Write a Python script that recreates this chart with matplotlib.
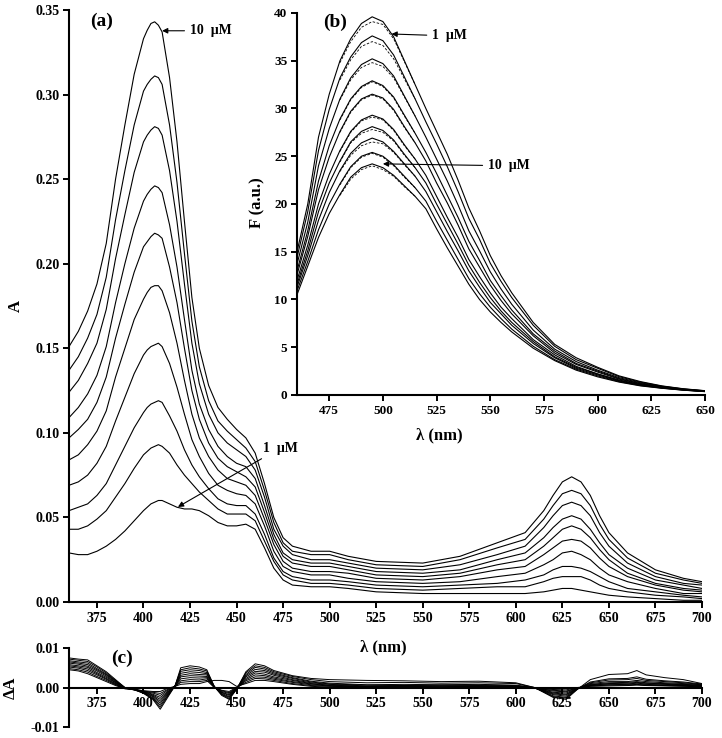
import numpy as np
import matplotlib.pyplot as plt

plt.rcParams['font.family'] = ['Liberation Serif', 'DejaVu Serif']
plt.rcParams['font.weight'] = 'bold'
plt.rcParams['axes.labelweight'] = 'bold'

# ---- (a) absorbance spectra, 1 ... 10 uM ----
wl_a = [360, 365, 370, 375, 380, 385, 390, 395, 400, 402, 404, 406, 408, 410, 414, 418, 422, 426, 430,
        435, 440, 445, 450, 455, 460, 465, 470, 475, 480, 490, 500, 510, 525, 550, 570, 590, 605,
        615, 620, 625, 630, 635, 640, 645, 650, 660, 675, 690, 700]
abs_1 = [.029, .028, .028, .030, .033, .037, .042, .048, .054, .056, .058, .059, .060, .060, .058, .056, .055, .055, .054,
         .051, .047, .045, .045, .046, .043, .032, .020, .013, .010, .009, .009, .008, .006, .005, .005, .005, .005,
         .006, .007, .008, .008, .007, .006, .005, .004, .003, .002, .001, .001]
abs_2 = [.043, .043, .045, .049, .054, .062, .070, .079, .087, .089, .091, .092, .093, .092, .088, .081, .075, .070, .065,
         .060, .055, .052, .052, .052, .048, .036, .024, .016, .013, .011, .011, .010, .008, .007, .008, .009, .009,
         .012, .014, .015, .015, .015, .013, .010, .008, .006, .004, .003, .002]
abs_3 = [.054, .056, .058, .063, .070, .081, .092, .103, .112, .115, .117, .118, .119, .118, .110, .101, .090, .081, .074,
         .067, .061, .058, .057, .057, .052, .040, .026, .018, .015, .013, .013, .012, .010, .009, .010, .011, .013,
         .016, .019, .021, .021, .020, .018, .015, .012, .008, .006, .004, .003]
abs_4 = [.069, .071, .075, .082, .092, .107, .121, .135, .146, .149, .151, .152, .153, .151, .141, .127, .111, .096, .086,
         .076, .069, .066, .064, .063, .058, .045, .030, .021, .018, .016, .016, .014, .012, .011, .012, .015, .017,
         .022, .025, .029, .030, .028, .025, .020, .016, .012, .008, .005, .005]
abs_5 = [.084, .087, .093, .101, .113, .133, .150, .167, .179, .183, .186, .187, .187, .184, .171, .153, .131, .111, .097,
         .086, .078, .073, .071, .069, .063, .049, .034, .024, .020, .018, .018, .017, .014, .013, .015, .019, .021,
         .028, .032, .036, .037, .036, .032, .026, .021, .015, .010, .007, .006]
abs_6 = [.097, .102, .108, .118, .133, .156, .176, .195, .210, .213, .216, .218, .217, .215, .198, .177, .150, .125, .108,
         .094, .085, .080, .077, .074, .068, .053, .037, .027, .023, .021, .021, .019, .016, .015, .017, .022, .025,
         .033, .038, .043, .045, .043, .038, .031, .025, .017, .011, .008, .007]
abs_7 = [.109, .115, .123, .134, .151, .177, .200, .221, .237, .241, .244, .246, .245, .242, .223, .198, .167, .137, .117,
         .102, .092, .086, .082, .080, .073, .057, .040, .029, .025, .023, .023, .021, .018, .017, .019, .025, .029,
         .038, .044, .049, .051, .049, .043, .035, .028, .020, .013, .010, .008]
abs_8 = [.124, .131, .141, .153, .173, .203, .229, .254, .272, .276, .279, .281, .280, .276, .255, .225, .188, .153, .129,
         .111, .100, .094, .090, .086, .078, .062, .043, .033, .028, .025, .025, .023, .020, .019, .022, .028, .033,
         .044, .051, .057, .059, .057, .051, .041, .033, .023, .015, .011, .010]
abs_9 = [.137, .145, .156, .170, .192, .226, .255, .282, .302, .306, .309, .311, .310, .306, .282, .248, .206, .166, .139,
         .119, .107, .101, .096, .091, .083, .066, .047, .035, .030, .028, .028, .025, .022, .021, .025, .032, .037,
         .049, .057, .064, .066, .064, .057, .046, .037, .026, .017, .013, .011]
abs_10 = [.151, .160, .172, .188, .212, .250, .282, .312, .333, .338, .342, .343, .341, .337, .310, .272, .225, .180, .150,
          .128, .115, .108, .102, .097, .088, .070, .050, .038, .033, .030, .030, .027, .024, .023, .027, .035, .041,
          .054, .063, .071, .074, .071, .063, .051, .041, .029, .019, .014, .012]
abs_curves = [abs_1, abs_2, abs_3, abs_4, abs_5, abs_6, abs_7, abs_8, abs_9, abs_10]

# ---- (b) fluorescence spectra ----
wl_b = [460, 465, 470, 475, 480, 485, 490, 495, 500, 505, 510, 515, 520, 525, 530, 535, 540, 545,
        550, 555, 560, 570, 580, 590, 600, 610, 620, 630, 640, 650]
fl_1 = [15.0, 20.0, 27.0, 31.5, 35.0, 37.3, 38.9, 39.6, 39.1, 37.5, 35.0, 32.5, 30.0, 27.6, 25.2, 22.5, 19.6, 17.2,
        14.6, 12.5, 10.7, 7.6, 5.3, 3.9, 2.9, 2.0, 1.4, 0.95, 0.65, 0.45]
fl_2 = [14.4, 19.2, 25.6, 29.9, 33.2, 35.4, 36.9, 37.6, 37.1, 35.6, 33.3, 31.0, 28.6, 26.3, 23.9, 21.3, 18.5, 16.3,
        13.8, 11.9, 10.2, 7.3, 5.1, 3.7, 2.8, 1.92, 1.34, 0.92, 0.63, 0.44]
fl_3 = [13.7, 18.1, 24.0, 27.9, 31.0, 33.2, 34.6, 35.2, 34.7, 33.4, 31.3, 29.2, 27.0, 24.7, 22.4, 19.9, 17.2, 15.1,
        12.9, 11.1, 9.5, 6.8, 4.8, 3.5, 2.6, 1.81, 1.27, 0.88, 0.61, 0.42]
fl_4 = [13.0, 17.2, 22.4, 26.1, 28.9, 31.0, 32.3, 32.9, 32.4, 31.2, 29.3, 27.4, 25.4, 23.2, 20.9, 18.6, 16.1, 14.1,
        12.0, 10.4, 8.9, 6.4, 4.6, 3.3, 2.5, 1.72, 1.20, 0.84, 0.58, 0.41]
fl_5 = [12.6, 16.6, 21.5, 24.9, 27.6, 29.7, 31.0, 31.5, 31.1, 29.9, 28.1, 26.4, 24.5, 22.2, 20.1, 17.8, 15.3, 13.4,
        11.5, 9.9, 8.5, 6.2, 4.4, 3.2, 2.4, 1.66, 1.16, 0.82, 0.57, 0.40]
fl_6 = [12.0, 15.7, 20.0, 23.1, 25.6, 27.6, 28.8, 29.3, 28.9, 27.8, 26.2, 24.7, 23.0, 20.8, 18.6, 16.5, 14.2, 12.4,
        10.7, 9.2, 8.0, 5.8, 4.2, 3.0, 2.2, 1.57, 1.10, 0.78, 0.55, 0.38]
fl_7 = [11.6, 15.1, 19.2, 22.2, 24.5, 26.5, 27.6, 28.1, 27.7, 26.7, 25.2, 23.8, 22.2, 20.0, 17.9, 15.8, 13.6, 11.8,
        10.2, 8.8, 7.6, 5.6, 4.0, 2.9, 2.2, 1.51, 1.06, 0.76, 0.54, 0.38]
fl_8 = [11.3, 14.6, 18.3, 21.2, 23.5, 25.3, 26.4, 26.9, 26.5, 25.5, 24.2, 22.9, 21.3, 19.2, 17.1, 15.1, 13.0, 11.3,
        9.7, 8.5, 7.3, 5.4, 3.9, 2.8, 2.1, 1.46, 1.03, 0.74, 0.53, 0.37]
fl_9 = [10.9, 14.0, 17.3, 20.0, 22.1, 23.9, 25.0, 25.4, 25.0, 24.1, 22.9, 21.7, 20.3, 18.2, 16.2, 14.2, 12.2, 10.6,
        9.2, 8.0, 6.9, 5.1, 3.7, 2.7, 2.0, 1.40, 0.99, 0.72, 0.51, 0.36]
fl_10 = [10.5, 13.5, 16.5, 19.0, 21.0, 22.8, 23.8, 24.2, 23.8, 23.0, 21.9, 20.8, 19.5, 17.4, 15.4, 13.5, 11.6, 10.0,
         8.7, 7.6, 6.6, 4.9, 3.6, 2.6, 1.9, 1.35, 0.95, 0.70, 0.50, 0.35]
fl_curves = [fl_1, fl_2, fl_3, fl_4, fl_5, fl_6, fl_7, fl_8, fl_9, fl_10]

# dashed (fitted) curves, only where they part from the measured ones
wl_b_pk = [480, 485, 490, 495, 500, 505, 510, 515]
fit_1 = [34.8, 37.0, 38.5, 39.1, 38.8, 37.3, 34.9, 32.5]
fit_2 = [33.0, 35.1, 36.5, 37.0, 36.6, 35.2, 33.1, 31.0]
fit_3 = [30.9, 33.0, 34.3, 34.8, 34.4, 33.2, 31.2, 29.2]
fit_4 = [28.8, 30.9, 32.2, 32.8, 32.3, 31.1, 29.2, 27.4]
fit_5 = [27.5, 29.6, 30.9, 31.4, 31.0, 29.8, 28.0, 26.4]
fit_6 = [25.5, 27.5, 28.7, 29.1, 28.8, 27.7, 26.1, 24.7]
fit_7 = [24.4, 26.4, 27.4, 27.8, 27.5, 26.6, 25.1, 23.8]
fit_8 = [23.4, 25.1, 26.1, 26.5, 26.3, 25.4, 24.1, 22.9]
fit_9 = [22.0, 23.8, 24.9, 25.3, 24.9, 24.0, 22.8, 21.7]
fit_10 = [20.9, 22.6, 23.6, 24.0, 23.6, 22.9, 21.8, 20.8]
fit_curves = [fit_1, fit_2, fit_3, fit_4, fit_5, fit_6, fit_7, fit_8, fit_9, fit_10]

# ---- (c) residuals, in units of 1e-3 ----
wl_c = [360, 365, 370, 375, 380, 385, 390, 395, 400, 405, 409, 413, 417, 420, 425, 430, 434, 438, 442, 446,
        450, 455, 460, 465, 470, 480, 490, 500, 520, 540, 560, 580, 600, 610, 620, 627, 633, 640, 650, 660,
        665, 670, 680, 690, 700]
dA_1 = [4.5, 4.2, 3.5, 2.5, 1.5, 0.5, -0.3, -0.5, -0.8, -1.0, -1.0, -0.2, 0.3, 0.8, 1.0, 1.0, 1.5, 1.8, 1.8, 1.5,
        0.3, 1.0, 1.8, 1.8, 1.5, 0.8, 0.3, 0.1, 0.0, 0.1, 0.0, 0.1, 0.0, -0.2, -0.5, -0.6, 0.0, 0.3, 0.4, 0.5,
        0.6, 0.5, 0.4, 0.3, 0.2]
dA_2 = [4.8, 4.5, 3.9, 2.8, 1.8, 0.7, -0.3, -0.4, -0.9, -1.2, -1.5, -0.5, 0.3, 1.3, 1.5, 1.5, 1.8, 0.0, -0.7, -1.0,
        0.0, 1.3, 2.3, 2.2, 1.8, 1.0, 0.5, 0.3, 0.1, 0.0, 0.1, 0.2, 0.1, -0.2, -0.7, -0.9, -0.1, 0.4, 0.6, 0.6,
        0.8, 0.6, 0.5, 0.4, 0.3]
dA_3 = [5.2, 4.9, 4.3, 3.2, 2.1, 0.8, -0.2, -0.6, -1.0, -1.4, -2.0, -0.7, 0.3, 1.7, 2.0, 1.9, 2.2, 0.1, -0.8, -1.3,
        -0.1, 1.7, 2.7, 2.6, 2.1, 1.3, 0.7, 0.4, 0.2, 0.2, 0.1, 0.2, 0.1, -0.2, -0.9, -1.1, -0.1, 0.5, 0.7, 0.8,
        0.9, 0.8, 0.6, 0.5, 0.3]
dA_4 = [5.5, 5.2, 4.7, 3.5, 2.3, 1.0, -0.2, -0.5, -1.0, -1.7, -2.5, -1.0, 0.4, 2.2, 2.5, 2.4, 2.5, 0.1, -1.0, -1.5,
        -0.2, 2.0, 3.2, 3.0, 2.4, 1.5, 0.9, 0.5, 0.2, 0.3, 0.2, 0.3, 0.2, -0.1, -1.2, -1.4, -0.2, 0.6, 0.9, 0.9,
        1.1, 0.9, 0.8, 0.6, 0.4]
dA_5 = [5.8, 5.5, 5.1, 3.8, 2.6, 1.2, -0.2, -0.4, -1.1, -1.9, -3.0, -1.2, 0.4, 2.7, 3.0, 2.9, 2.8, 0.1, -1.2, -1.8,
        -0.2, 2.3, 3.7, 3.4, 2.7, 1.8, 1.0, 0.6, 0.3, 0.3, 0.4, 0.4, 0.3, -0.1, -1.4, -1.7, -0.2, 0.7, 1.0, 1.1,
        1.3, 1.1, 0.9, 0.7, 0.5]
dA_6 = [6.2, 5.9, 5.4, 4.2, 2.9, 1.3, -0.1, -0.6, -1.2, -2.1, -3.5, -1.5, 0.4, 3.1, 3.5, 3.3, 3.2, 0.2, -1.3, -2.0,
        -0.3, 2.7, 4.1, 3.9, 3.1, 2.0, 1.2, 0.8, 0.4, 0.5, 0.4, 0.5, 0.3, -0.1, -1.6, -1.9, -0.3, 0.8, 1.2, 1.3,
        1.5, 1.2, 1.0, 0.8, 0.6]
dA_7 = [6.5, 6.2, 5.8, 4.5, 3.2, 1.5, -0.1, -0.5, -1.3, -2.3, -4.0, -1.7, 0.4, 3.6, 4.0, 3.8, 3.5, 0.2, -1.5, -2.3,
        -0.3, 3.0, 4.6, 4.3, 3.4, 2.3, 1.4, 0.9, 0.6, 0.5, 0.6, 0.6, 0.5, -0.1, -1.8, -2.2, -0.3, 1.0, 1.5, 1.5,
        1.8, 1.5, 1.2, 1.0, 0.7]
dA_8 = [6.8, 6.5, 6.2, 4.8, 3.4, 1.7, -0.1, -0.4, -1.3, -2.6, -4.5, -2.0, 0.5, 4.1, 4.5, 4.3, 3.8, 0.2, -1.7, -2.5,
        -0.4, 3.3, 5.1, 4.7, 3.7, 2.5, 1.6, 1.1, 0.7, 0.8, 0.7, 0.8, 0.6, 0.0, -2.1, -2.5, -0.4, 1.2, 1.9, 2.0,
        2.3, 1.8, 1.5, 1.2, 0.8]
dA_9 = [7.2, 6.9, 6.6, 5.2, 3.7, 1.8, 0.0, -0.6, -1.4, -2.8, -5.0, -2.2, 0.5, 4.5, 5.0, 4.7, 4.2, 0.3, -1.8, -2.8,
        -0.4, 3.7, 5.5, 5.1, 4.0, 2.8, 2.0, 1.5, 1.2, 1.3, 1.1, 1.2, 1.0, 0.0, -2.3, -2.7, -0.4, 1.4, 2.2, 2.3,
        2.7, 2.1, 1.7, 1.4, 0.9]
dA_10 = [7.5, 7.2, 7.0, 5.5, 4.0, 2.0, 0.0, -0.5, -1.5, -3.0, -5.5, -2.5, 0.5, 5.0, 5.5, 5.2, 4.5, 0.3, -2.0, -3.0,
         -0.5, 4.0, 6.0, 5.5, 4.3, 3.0, 2.3, 2.0, 1.8, 1.7, 1.5, 1.6, 1.2, 0.0, -2.5, -3.0, -0.5, 2.0, 3.3, 3.5,
         4.3, 3.2, 2.5, 2.0, 1.0]
dA_curves = [dA_1, dA_2, dA_3, dA_4, dA_5, dA_6, dA_7, dA_8, dA_9, dA_10]

ticks_a = [375, 400, 425, 450, 475, 500, 525, 550, 575, 600, 625, 650, 675, 700]
ticks_b = [475, 500, 525, 550, 575, 600, 625, 650]


def style(ax, size=10):
    for s in ['top', 'right']:
        ax.spines[s].set_visible(False)
    for s in ['left', 'bottom']:
        ax.spines[s].set_linewidth(1.5)
    ax.tick_params(direction='out', length=4, width=1.4, labelsize=size, pad=3)


fig = plt.figure(figsize=(7.22, 7.38), dpi=100)

# main panel (a)
ax = fig.add_axes([0.0956, 0.1843, 0.8767, 0.8022])
for y in abs_curves:
    ax.plot(wl_a, y, color='k', lw=0.8)
ax.set_xlim(360, 700)
ax.set_ylim(0, 0.35)
ax.set_xticks(ticks_a)
ax.set_yticks(np.arange(0, 0.351, 0.05))
ax.yaxis.set_major_formatter(plt.FormatStrFormatter('%.2f'))
style(ax)
ax.set_xlabel('λ (nm)', fontsize=12)
ax.xaxis.set_label_coords(0.496, -0.064)
ax.set_ylabel('A', fontsize=12)
ax.yaxis.set_label_coords(-0.072, 0.5)
ax.text(0.052, 0.98, '(a)', transform=ax.transAxes, fontsize=14, ha='center', va='center')
ax.annotate('10  μM', xy=(410, 0.3377), xytext=(425, 0.3377), fontsize=10, va='center',
            arrowprops=dict(arrowstyle='-|>', color='k', lw=0.8, mutation_scale=8, shrinkA=2, shrinkB=0))
ax.annotate('1  μM', xy=(418.5, 0.0562), xytext=(464, 0.091), fontsize=10, va='center',
            arrowprops=dict(arrowstyle='-|>', color='k', lw=0.8, mutation_scale=8, shrinkA=2, shrinkB=0))

# inset (b)
axb = fig.add_axes([0.4114, 0.4648, 0.565, 0.5176])
for y in fl_curves:
    axb.plot(wl_b, y, color='k', lw=0.8)
for y in fit_curves:
    axb.plot(wl_b_pk, y, color='k', lw=0.6, ls=(0, (3, 2)))
axb.set_xlim(460, 650)
axb.set_ylim(0, 40)
axb.set_xticks(ticks_b)
axb.set_yticks(range(0, 41, 5))
style(axb, 9.5)
axb.set_xlabel('λ (nm)', fontsize=12)
axb.xaxis.set_label_coords(0.35, -0.084)
axb.set_ylabel('F (a.u.)', fontsize=12)
axb.yaxis.set_label_coords(-0.078, 0.503)
axb.text(0.093, 0.976, '(b)', transform=axb.transAxes, fontsize=14, ha='center', va='center')
axb.annotate('1  μM', xy=(504, 37.8), xytext=(523, 37.6), fontsize=10, va='center',
             arrowprops=dict(arrowstyle='-|>', color='k', lw=0.8, mutation_scale=8, shrinkA=2, shrinkB=0))
axb.annotate('10  μM', xy=(500, 24.2), xytext=(549, 24.0), fontsize=10, va='center',
             arrowprops=dict(arrowstyle='-|>', color='k', lw=0.8, mutation_scale=8, shrinkA=2, shrinkB=0))

# residual panel (c)
axc = fig.add_axes([0.0956, 0.0149, 0.8767, 0.107])
axc.set_facecolor('none')
for y in dA_curves:
    axc.plot(wl_c, np.array(y) * 1e-3, color='k', lw=0.7)
axc.set_xlim(360, 700)
axc.set_ylim(-0.01, 0.01)
axc.set_xticks(ticks_a)
axc.set_yticks([-0.01, 0.0, 0.01])
axc.yaxis.set_major_formatter(plt.FormatStrFormatter('%.2f'))
style(axc)
axc.spines['bottom'].set_position(('data', 0))
axc.set_ylabel('ΔA', fontsize=12)
axc.yaxis.set_label_coords(-0.08, 0.5)
axc.text(0.084, 0.87, '(c)', transform=axc.transAxes, fontsize=14, ha='center', va='center')

fig.savefig('out.png', dpi=100)
